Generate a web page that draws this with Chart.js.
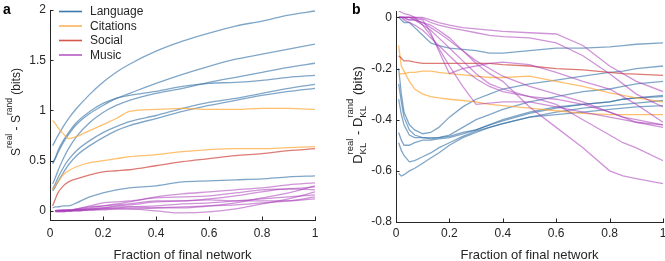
<!DOCTYPE html>
<html lang="en">
<head>
<meta charset="UTF-8">
<title>Entropy and divergence vs fraction of final network</title>
<style>
  body { margin: 0; background: #fff; }
  .panel { position: absolute; top: 0; height: 261px; }
  #panelA { left: 0; width: 333px; }
  #panelB { left: 333px; width: 332px; }
</style>
</head>
<body>
<div class="panel" id="panelA"><canvas id="chartA"></canvas></div>
<div class="panel" id="panelB"><canvas id="chartB"></canvas></div>
<script src="https://cdn.jsdelivr.net/npm/chart.js"></script>
<script>
// ---- data ----
const groupNames = ['Language', 'Citations', 'Social', 'Music'];
const xTicks = [0, 0.2, 0.4, 0.6, 0.8, 1];
const yTicksA = [0, 0.5, 1, 1.5, 2];
const yTicksB = [-0.8, -0.6, -0.4, -0.2, 0];

// panel a: S_real - S_rand
const xA = [0.01, 0.02, 0.03, 0.05, 0.07, 0.1, 0.15, 0.2, 0.25, 0.3, 0.4, 0.5, 0.6, 0.7, 0.8, 0.9, 1];
const langA1 = [0.65, 0.70, 0.75, 0.84, 0.92, 1.02, 1.16, 1.28, 1.38, 1.46, 1.59, 1.69, 1.77, 1.84, 1.89, 1.95, 1.99];
const langA2 = [0.47, 0.52, 0.58, 0.68, 0.76, 0.86, 0.97, 1.05, 1.12, 1.17, 1.27, 1.36, 1.44, 1.51, 1.56, 1.61, 1.66];
const langA3 = [0.27, 0.33, 0.40, 0.52, 0.62, 0.74, 0.88, 0.98, 1.05, 1.10, 1.17, 1.22, 1.28, 1.33, 1.38, 1.43, 1.47];
const langA4 = [0.48, 0.53, 0.60, 0.70, 0.78, 0.88, 0.99, 1.07, 1.12, 1.15, 1.19, 1.24, 1.27, 1.28, 1.30, 1.33, 1.35];
const langA5 = [0.22, 0.27, 0.33, 0.43, 0.51, 0.60, 0.70, 0.78, 0.84, 0.89, 0.95, 1.02, 1.08, 1.12, 1.17, 1.22, 1.26];
const langA6 = [0.20, 0.24, 0.29, 0.38, 0.46, 0.55, 0.65, 0.73, 0.80, 0.85, 0.92, 0.99, 1.05, 1.10, 1.15, 1.19, 1.22];
const langA7 = [0.03, 0.04, 0.04, 0.05, 0.05, 0.08, 0.14, 0.18, 0.21, 0.23, 0.25, 0.29, 0.30, 0.31, 0.32, 0.34, 0.35];
const citA1 = [0.90, 0.87, 0.83, 0.77, 0.72, 0.74, 0.80, 0.86, 0.92, 0.99, 1.01, 1.02, 1.01, 1.01, 1.02, 1.02, 1.01];
const citA2 = [0.21, 0.25, 0.29, 0.36, 0.40, 0.44, 0.48, 0.50, 0.52, 0.54, 0.56, 0.59, 0.61, 0.62, 0.62, 0.63, 0.64];
const socA1 = [0.05, 0.12, 0.18, 0.25, 0.29, 0.32, 0.36, 0.39, 0.40, 0.41, 0.45, 0.49, 0.52, 0.55, 0.57, 0.60, 0.62];
const musA1 = [null, 0, 0, 0, 0, 0.01, 0.03, 0.05, 0.07, 0.09, 0.14, 0.17, 0.19, 0.21, 0.23, 0.26, 0.28];
const musA2 = [null, 0, 0, 0.01, 0.01, 0.02, 0.05, 0.08, 0.09, 0.10, 0.13, 0.14, 0.15, 0.18, 0.21, 0.22, 0.24];
const musA3 = [null, 0, 0, 0, 0, 0.01, 0.02, 0.03, 0.05, 0.06, 0.09, 0.10, 0.12, 0.15, 0.19, 0.22, 0.21];
const musA4 = [null, -0.01, -0.01, -0.01, 0, 0, 0.01, 0.02, 0.02, 0.02, 0.0, -0.02, -0.01, 0.02, 0.07, 0.12, 0.19];
const musA5 = [null, 0, 0, 0, 0, 0, 0.01, 0.01, 0.02, 0.02, 0.03, 0.04, 0.05, 0.06, 0.08, 0.10, 0.14];
const musA6 = [null, 0, 0, 0, 0, 0.01, 0.01, 0.02, 0.03, 0.04, 0.05, 0.07, 0.08, 0.10, 0.12, 0.14, 0.16];
const musA7 = [null, 0, 0.01, 0.01, 0.01, 0.02, 0.04, 0.05, 0.06, 0.07, 0.10, 0.10, 0.11, 0.10, 0.10, 0.10, 0.12];
const musA8 = [null, 0, 0, 0, 0.01, 0.01, 0.02, 0.03, 0.04, 0.04, 0.03, 0.03, 0.05, 0.08, 0.13, 0.18, 0.25];

// panel b: D_KL_real - D_KL_rand
const xB = [0.01, 0.02, 0.03, 0.05, 0.07, 0.1, 0.13, 0.16, 0.2, 0.25, 0.3, 0.35, 0.4, 0.5, 0.6, 0.7, 0.8, 0.85, 0.9, 1];
const langB1 = [0, -0.01, -0.02, -0.02, -0.04, -0.07, -0.1, -0.11, -0.12, -0.125, -0.13, -0.14, -0.14, -0.13, -0.12, -0.12, -0.115, -0.11, -0.105, -0.1];
const langB2 = [-0.2, -0.3, -0.37, -0.42, -0.44, -0.455, -0.45, -0.43, -0.39, -0.35, -0.32, -0.3, -0.28, -0.26, -0.245, -0.23, -0.215, -0.21, -0.2, -0.19];
const langB3 = [-0.26, -0.33, -0.39, -0.44, -0.46, -0.47, -0.475, -0.47, -0.46, -0.43, -0.4, -0.38, -0.36, -0.33, -0.31, -0.29, -0.28, -0.27, -0.26, -0.25];
const langB4 = [-0.32, -0.38, -0.42, -0.46, -0.47, -0.47, -0.47, -0.47, -0.465, -0.45, -0.44, -0.42, -0.4, -0.37, -0.35, -0.34, -0.33, -0.32, -0.315, -0.31];
const langB5 = [-0.45, -0.48, -0.5, -0.5, -0.49, -0.48, -0.48, -0.475, -0.47, -0.455, -0.44, -0.42, -0.405, -0.375, -0.355, -0.34, -0.33, -0.32, -0.315, -0.305];
const langB6 = [-0.49, -0.52, -0.54, -0.565, -0.56, -0.545, -0.53, -0.51, -0.49, -0.465, -0.445, -0.43, -0.415, -0.39, -0.37, -0.355, -0.345, -0.34, -0.335, -0.325];
const langB7 = [-0.61, -0.62, -0.615, -0.6, -0.59, -0.57, -0.55, -0.53, -0.5, -0.47, -0.45, -0.43, -0.415, -0.39, -0.38, -0.37, -0.36, -0.355, -0.35, -0.345];
const citB1 = [-0.11, -0.19, -0.21, -0.25, -0.28, -0.3, -0.31, -0.315, -0.32, -0.325, -0.33, -0.34, -0.345, -0.355, -0.365, -0.375, -0.38, -0.38, -0.38, -0.38];
const citB2 = [-0.225, -0.22, -0.22, -0.215, -0.215, -0.21, -0.21, -0.215, -0.22, -0.225, -0.23, -0.235, -0.235, -0.23, -0.25, -0.27, -0.295, -0.305, -0.315, -0.33];
const socB1 = [-0.15, -0.16, -0.17, -0.17, -0.175, -0.18, -0.18, -0.18, -0.18, -0.18, -0.18, -0.18, -0.185, -0.19, -0.2, -0.205, -0.215, -0.22, -0.222, -0.227];
const musB1 = [0, 0, 0, 0, 0, 0, -0.01, -0.02, -0.03, -0.04, -0.045, -0.05, -0.055, -0.06, -0.065, -0.11, -0.19, -0.22, -0.25, -0.29];
const musB2 = [0, 0, 0, 0, 0, -0.005, -0.02, -0.03, -0.04, -0.05, -0.06, -0.07, -0.075, -0.08, -0.1, -0.15, -0.22, -0.26, -0.3, -0.35];
const musB3 = [0, 0, 0, 0, -0.005, -0.01, -0.06, -0.13, -0.22, -0.2, -0.19, -0.18, -0.175, -0.185, -0.215, -0.25, -0.28, -0.31, -0.34, -0.41];
const musB4 = [0.025, 0.02, 0.015, 0.01, 0, -0.03, -0.07, -0.12, -0.19, -0.27, -0.34, -0.335, -0.33, -0.33, -0.35, -0.37, -0.39, -0.4, -0.41, -0.42];
const musB5 = [0, 0, 0, 0, -0.01, -0.02, -0.03, -0.05, -0.08, -0.13, -0.18, -0.22, -0.25, -0.35, -0.43, -0.51, -0.6, -0.62, -0.63, -0.65];
const musB6 = [0, 0, -0.005, -0.01, -0.01, -0.03, -0.05, -0.08, -0.12, -0.17, -0.22, -0.26, -0.28, -0.31, -0.34, -0.4, -0.46, -0.49, -0.51, -0.56];
const musB7 = [0, 0, -0.01, -0.02, -0.03, -0.05, -0.08, -0.11, -0.15, -0.2, -0.24, -0.27, -0.29, -0.31, -0.32, -0.34, -0.37, -0.39, -0.41, -0.43];
const musB8 = [0, 0, 0, -0.01, -0.01, -0.02, -0.04, -0.06, -0.09, -0.13, -0.17, -0.2, -0.23, -0.27, -0.3, -0.33, -0.37, -0.39, -0.4, -0.42];

// ---- styling ----
const FONT = '"Liberation Sans", Arial, Helvetica, sans-serif';
const AXIS = '#262626';
const lineColors = {
    Language: 'rgba(50, 112, 165, 0.62)',
    Citations: 'rgba(253, 168, 55, 0.72)',
    Social: 'rgba(205, 65, 55, 0.7)',
    Music: 'rgba(168, 58, 184, 0.55)'
};
const legendColors = {
    Language: '#3b78ae',
    Citations: '#fbb158',
    Social: '#d4554a',
    Music: '#b65bc4'
};

function makeDatasets(xs, groups, tension) {
    const out = [];
    groups.forEach(([name, lines]) => {
        lines.forEach(vals => {
            out.push({
                label: name,
                data: xs.map((x, i) => ({ x: x, y: vals[i] })),
                borderColor: lineColors[name],
                borderWidth: 1.3,
                pointRadius: 0,
                fill: false,
                spanGaps: true,
                tension: tension,
                cubicInterpolationMode: tension > 0 ? 'monotone' : 'default'
            });
        });
    });
    return out;
}

// draws a rotated label with super/subscripts, reading upwards
function drawRotatedLabel(ctx, baseX, centerY, parts, mainSize, smallSize) {
    const main = mainSize + 'px ' + FONT;
    const small = smallSize + 'px ' + FONT;
    let total = 0;
    const widths = parts.map(p => {
        let w;
        if (p.t !== undefined) { ctx.font = main; w = ctx.measureText(p.t).width; }
        else {
            ctx.font = small;
            w = Math.max(p.sup ? ctx.measureText(p.sup).width : 0, p.sub ? ctx.measureText(p.sub).width : 0);
        }
        total += w;
        return w;
    });
    ctx.save();
    ctx.translate(baseX, centerY);
    ctx.rotate(-Math.PI / 2);
    ctx.fillStyle = AXIS;
    ctx.textBaseline = 'alphabetic';
    ctx.textAlign = 'left';
    let x = -total / 2;
    parts.forEach((p, i) => {
        if (p.t !== undefined) {
            ctx.font = main;
            ctx.fillText(p.t, x, 0);
        } else {
            ctx.font = small;
            if (p.sup) ctx.fillText(p.sup, x, -Math.round(mainSize * 0.68));
            if (p.sub) ctx.fillText(p.sub, x, Math.round(mainSize * 0.33));
        }
        x += widths[i];
    });
    ctx.restore();
}

function decorPlugin(cfg) {
    return {
        id: 'decor',
        afterDraw(chart) {
            const ctx = chart.ctx;
            const area = chart.chartArea;
            const xs = chart.scales.x, ys = chart.scales.y;
            ctx.save();
            // inward tick marks
            ctx.strokeStyle = AXIS;
            ctx.lineWidth = 1;
            ctx.beginPath();
            xs.ticks.forEach(t => {
                const px = Math.round(xs.getPixelForValue(t.value)) + 0.5;
                ctx.moveTo(px, area.bottom);
                ctx.lineTo(px, area.bottom - 3.5);
            });
            ys.ticks.forEach(t => {
                const py = Math.round(ys.getPixelForValue(t.value)) + 0.5;
                ctx.moveTo(area.left, py);
                ctx.lineTo(area.left + 3.5, py);
            });
            ctx.stroke();
            // panel letter
            ctx.fillStyle = '#000';
            ctx.font = 'bold 14px ' + FONT;
            ctx.textBaseline = 'alphabetic';
            ctx.textAlign = 'left';
            ctx.fillText(cfg.letter, cfg.letterX, 14);
            // legend
            if (cfg.legend) {
                ctx.font = '12px ' + FONT;
                ctx.textBaseline = 'middle';
                groupNames.forEach((name, i) => {
                    const y = 11.5 + i * 14.5;
                    ctx.strokeStyle = legendColors[name];
                    ctx.lineWidth = 1.6;
                    ctx.beginPath();
                    ctx.moveTo(59, y);
                    ctx.lineTo(82, y);
                    ctx.stroke();
                    ctx.fillStyle = AXIS;
                    ctx.fillText(name, 90, y + 0.5);
                });
            }
            ctx.restore();
            drawRotatedLabel(ctx, cfg.titleX, cfg.titleY, cfg.titleParts, cfg.titleSize, cfg.titleSmall);
        }
    };
}

function makeChart(canvasId, datasets, opt) {
    return new Chart(document.getElementById(canvasId), {
        type: 'line',
        data: { datasets: datasets },
        options: {
            responsive: true,
            maintainAspectRatio: false,
            animation: false,
            events: [],
            layout: { padding: { left: 0, right: opt.padRight, top: opt.padTop, bottom: 0 } },
            plugins: { legend: { display: false }, tooltip: { enabled: false } },
            scales: {
                x: {
                    type: 'linear',
                    min: 0, max: 1,
                    afterBuildTicks: s => { s.ticks = xTicks.map(v => ({ value: v })); },
                    afterFit: s => { s.height = opt.xHeight; s.paddingLeft = 0; s.paddingRight = 0; },
                    grid: { display: false, drawTicks: false },
                    border: { display: true, color: AXIS, width: 1 },
                    ticks: {
                        autoSkip: false, maxRotation: 0, padding: opt.xPad, color: AXIS,
                        font: { family: FONT, size: 12 },
                        callback: v => String(v)
                    },
                    title: {
                        display: true, text: 'Fraction of final network', color: AXIS,
                        font: { family: FONT, size: 13 }, padding: { top: 0, bottom: -2 }
                    }
                },
                y: {
                    type: 'linear',
                    min: opt.yMin, max: opt.yMax,
                    afterBuildTicks: s => { s.ticks = opt.yTicks.map(v => ({ value: v })); },
                    afterFit: s => { s.width = opt.yWidth; s.paddingTop = 0; s.paddingBottom = 0; },
                    grid: { display: false, drawTicks: false },
                    border: { display: true, color: AXIS, width: 1 },
                    ticks: {
                        autoSkip: false, padding: 4, color: AXIS,
                        font: { family: FONT, size: 12 },
                        callback: v => String(v)
                    }
                }
            }
        },
        plugins: [decorPlugin(opt.decor)]
    });
}

const setsA = makeDatasets(xA, [
    ['Music', [musA1, musA2, musA3, musA4, musA5, musA6, musA7, musA8]],
    ['Social', [socA1]],
    ['Citations', [citA1, citA2]],
    ['Language', [langA1, langA2, langA3, langA4, langA5, langA6, langA7]]
], 0.4);

const setsB = makeDatasets(xB, [
    ['Music', [musB1, musB2, musB3, musB4, musB5, musB6, musB7, musB8]],
    ['Social', [socB1]],
    ['Citations', [citB1, citB2]],
    ['Language', [langB1, langB2, langB3, langB4, langB5, langB6, langB7]]
], 0);

makeChart('chartA', setsA, {
    padRight: 18, padTop: 10, xHeight: 41, xPad: 6, yWidth: 50,
    yMin: -0.09, yMax: 2, yTicks: yTicksA,
    decor: {
        letter: 'a', letterX: 3, legend: true,
        titleX: 20, titleY: 112,
        titleParts: [{ t: 'S' }, { sup: 'real' }, { t: ' - S' }, { sup: 'rand' }, { t: ' (bits)' }],
        titleSize: 12, titleSmall: 8.5
    }
});

makeChart('chartB', setsB, {
    padRight: 2, padTop: 11, xHeight: 39, xPad: 4, yWidth: 63,
    yMin: -0.8, yMax: 0.025, yTicks: yTicksB,
    decor: {
        letter: 'b', letterX: 19, legend: false,
        titleX: 29, titleY: 115,
        titleParts: [{ t: 'D' }, { sub: 'KL', sup: 'real' }, { t: ' - D' }, { sub: 'KL', sup: 'rand' }, { t: ' (bits)' }],
        titleSize: 13, titleSmall: 9.5
    }
});
</script>
</body>
</html>
